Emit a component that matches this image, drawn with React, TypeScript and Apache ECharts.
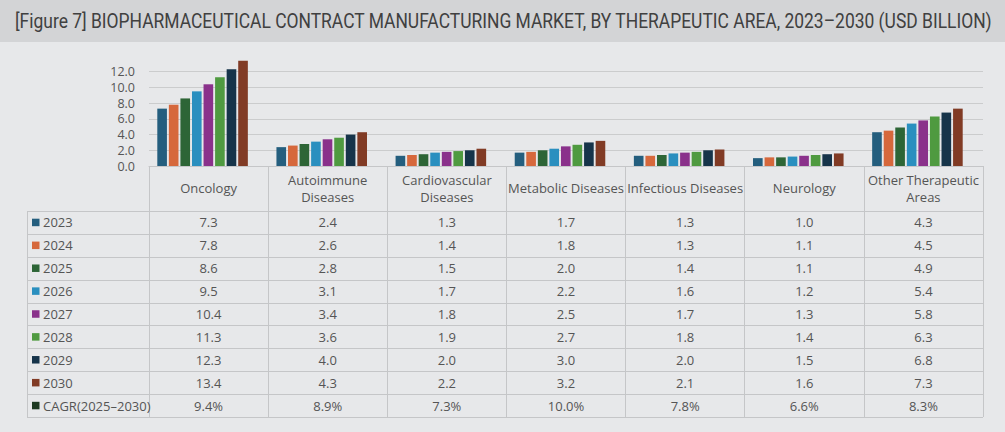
import React, { useEffect, useRef } from "react";
import * as echarts from "echarts";

const titleText =
  "[Figure 7] BIOPHARMACEUTICAL CONTRACT MANUFACTURING MARKET, BY THERAPEUTIC AREA, 2023\u20132030 (USD BILLION)";

const categories = [
  "Oncology",
  "Autoimmune\nDiseases",
  "Cardiovascular\nDiseases",
  "Metabolic Diseases",
  "Infectious Diseases",
  "Neurology",
  "Other Therapeutic\nAreas",
];

const years = ["2023", "2024", "2025", "2026", "2027", "2028", "2029", "2030"];

const v2023 = [7.3, 2.4, 1.3, 1.7, 1.3, 1.0, 4.3];
const v2024 = [7.8, 2.6, 1.4, 1.8, 1.3, 1.1, 4.5];
const v2025 = [8.6, 2.8, 1.5, 2.0, 1.4, 1.1, 4.9];
const v2026 = [9.5, 3.1, 1.7, 2.2, 1.6, 1.2, 5.4];
const v2027 = [10.4, 3.4, 1.8, 2.5, 1.7, 1.3, 5.8];
const v2028 = [11.3, 3.6, 1.9, 2.7, 1.8, 1.4, 6.3];
const v2029 = [12.3, 4.0, 2.0, 3.0, 2.0, 1.5, 6.8];
const v2030 = [13.4, 4.3, 2.2, 3.2, 2.1, 1.6, 7.3];
const yearValues = [v2023, v2024, v2025, v2026, v2027, v2028, v2029, v2030];

const cagrLabel = "CAGR(2025\u20132030)";
const cagr = ["9.4%", "8.9%", "7.3%", "10.0%", "7.8%", "6.6%", "8.3%"];

const yearColors = [
  "#245e7e",
  "#d6683c",
  "#2d6536",
  "#2a8fbf",
  "#8a318b",
  "#4f9a40",
  "#16344a",
  "#813b25",
];
const cagrColor = "#1e3a22";

const W = 1005;
const H = 432;
const gridLeft = 149;
const gridRight = 983;
const barShift = 6;
const axisY = 166;
const plotTop = 56;
const tableLeft = 27;
const headerBottom = 211;
const tableBottom = 417;
const FONT = "'Open Sans', 'Noto Sans', sans-serif";
const TEXT = "#555555";
const LINE = "#c5c6c8";

function measure(text: string, font: string): number {
  try {
    const c = document.createElement("canvas");
    const ctx = c.getContext("2d");
    if (!ctx) return 0;
    ctx.font = font;
    return ctx.measureText(text).width;
  } catch (e) {
    return 0;
  }
}

export default function App() {
  const ref = useRef<HTMLDivElement>(null);

  useEffect(() => {
    if (!ref.current) return;
    const chart = echarts.init(ref.current, undefined, { renderer: "svg" });

    const nRows = years.length + 1;
    const rowH = (tableBottom - headerBottom) / nRows;
    const colW = (gridRight - gridLeft) / categories.length;

    const titleSize = 21;
    const titleFont = "Roboto, sans-serif";
    const tw = measure(titleText, `${titleSize}px Roboto`);
    const targetW = 978;
    const titleScale = tw > 0 ? targetW / tw : 0.72;

    const graphics: any[] = [];
    graphics.push({
      type: "rect",
      shape: { x: 0, y: 0, width: W, height: 42 },
      style: { fill: "#d3d4d6" },
      z: 0,
      silent: true,
    });
    graphics.push({
      type: "text",
      x: 15,
      y: 21,
      scaleX: titleScale,
      style: {
        text: titleText,
        fontSize: titleSize,
        fontFamily: titleFont,
        fill: "#404040",
        align: "left",
        verticalAlign: "middle",
      },
      z: 10,
    });

    for (let r = 0; r <= nRows; r++) {
      const y = Math.round(headerBottom + r * rowH) + 0.5;
      graphics.push({
        type: "line",
        shape: { x1: tableLeft, y1: y, x2: gridRight, y2: y },
        style: { stroke: LINE, lineWidth: 1 },
        z: 5,
        silent: true,
      });
    }
    graphics.push({
      type: "line",
      shape: { x1: tableLeft + 0.5, y1: headerBottom, x2: tableLeft + 0.5, y2: tableBottom },
      style: { stroke: LINE, lineWidth: 1 },
      z: 5,
      silent: true,
    });

    const rowLabels = [...years, cagrLabel];
    const rowColors = [...yearColors, cagrColor];
    const rowCells: string[][] = [
      ...yearValues.map((arr) => arr.map((v) => v.toFixed(1))),
      cagr,
    ];

    rowLabels.forEach((label, r) => {
      const cy = headerBottom + (r + 0.5) * rowH;
      graphics.push({
        type: "rect",
        shape: { x: 32, y: cy - 3.75, width: 7.5, height: 7.5 },
        style: { fill: rowColors[r] },
        z: 6,
      });
      graphics.push({
        type: "text",
        x: 43,
        y: cy,
        style: {
          text: label,
          fontSize: 13,
          fontFamily: FONT,
          fill: TEXT,
          align: "left",
          verticalAlign: "middle",
        },
        z: 6,
      });
      rowCells[r].forEach((val, c) => {
        graphics.push({
          type: "text",
          x: gridLeft + (c + 0.5) * colW,
          y: cy,
          style: {
            text: val,
            fontSize: 13,
            fontFamily: FONT,
            fill: TEXT,
            align: "center",
            verticalAlign: "middle",
          },
          z: 6,
        });
      });
    });

    const option: any = {
      animation: false,
      backgroundColor: "#e7e8ea",
      grid: [
        {
          left: gridLeft,
          right: W - gridRight,
          top: plotTop,
          bottom: H - axisY,
          containLabel: false,
        },
        {
          left: gridLeft - barShift,
          right: W - gridRight + barShift,
          top: plotTop,
          bottom: H - axisY,
          containLabel: false,
        },
      ],
      xAxis: [
        {
          type: "category",
          gridIndex: 0,
          data: categories,
          boundaryGap: true,
          axisLine: { show: true, lineStyle: { color: LINE, width: 1 } },
          axisTick: {
            show: true,
            alignWithLabel: false,
            interval: 0,
            length: tableBottom - axisY,
            lineStyle: { color: LINE, width: 1 },
          },
          axisLabel: {
            interval: 0,
            margin: 22,
            verticalAlign: "middle",
            lineHeight: 17,
            fontSize: 13,
            fontFamily: FONT,
            color: TEXT,
          },
        },
        {
          type: "category",
          gridIndex: 1,
          data: categories,
          boundaryGap: true,
          show: false,
        },
      ],
      yAxis: [
        {
          type: "value",
          gridIndex: 0,
          min: 0,
          max: 14,
          interval: 2,
          axisLine: { show: false },
          axisTick: { show: false },
          axisLabel: {
            showMaxLabel: false,
            margin: 14,
            fontSize: 12.5,
            lineHeight: 12,
            fontFamily: FONT,
            color: TEXT,
            formatter: (v: number) => v.toFixed(1),
          },
          splitLine: {
            show: true,
            showMaxLine: false,
            lineStyle: { color: "#cbcccd", width: 1 },
          },
        },
        {
          type: "value",
          gridIndex: 1,
          min: 0,
          max: 14,
          interval: 2,
          show: false,
          splitLine: { show: false },
        },
      ],
      series: years.map((y, i) => ({
        name: y,
        type: "bar",
        xAxisIndex: 1,
        yAxisIndex: 1,
        data: yearValues[i],
        barGap: "20%",
        barCategoryGap: "24%",
        itemStyle: { color: yearColors[i] },
        z: 3,
      })),
      graphic: graphics,
    };

    chart.setOption(option);
    return () => {
      chart.dispose();
    };
  }, []);

  return (
    <div
      ref={ref}
      style={{ position: "fixed", left: 0, top: 0, width: W, height: H }}
    />
  );
}
